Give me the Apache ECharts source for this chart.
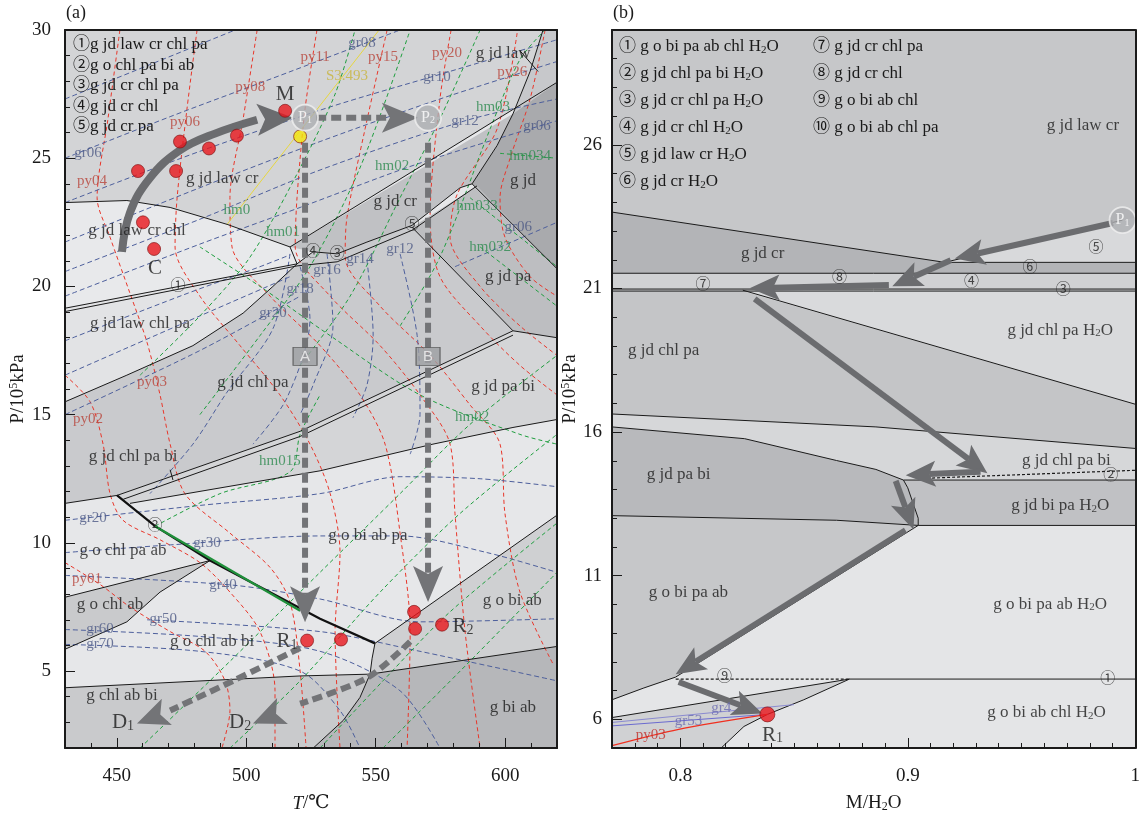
<!DOCTYPE html>
<html><head><meta charset="utf-8">
<script src="https://cdn.jsdelivr.net/npm/echarts@6/dist/echarts.min.js"></script>
<style>html,body{margin:0;padding:0;background:#fff}#c{width:1143px;height:818px}</style>
</head><body><div id="c"></div>
<script>
// ---------------- DATA: panel (a) T–P pseudosection ----------------
const A_ticksT = [450, 500, 550, 600];
const A_ticksP = [5, 10, 15, 20, 25, 30];
const B_ticksM = [0.8, 0.9, 1.0];
const B_ticksP = [6, 11, 16, 21, 26];

// field polygons (T °C, P 10^5 kPa)
const a_jdLawCr = [[430,30],[620,30],[620,27.96],[516.9,21.54],[492.6,22.42],[470.6,23.08],[453.9,23.35],[430,23.27]];
const a_jdLaw = [[603.0,26.73],[609.6,28.38],[614.6,30],[620,30],[620,27.96]];
const a_jd = [[603.0,26.73],[620,27.96],[620,20.69],[587.2,24.0],[596.9,25.5]];
const a_jdCr = [[516.9,21.54],[603.0,26.73],[596.9,25.5],[587.2,24.0],[582.6,23.85],[564.0,22.38],[546.6,21.73],[535.1,21.27],[525.8,21.35]];
const a_jdLawCrChl = [[430,23.27],[453.9,23.35],[470.6,23.08],[492.6,22.42],[516.9,21.54],[519.6,20.88],[430,19.15]];
const a_jdLawChlPa = [[430,19.15],[519.6,20.88],[510.3,20.0],[498.8,18.96],[479.4,17.69],[453.9,16.54],[430,15.5]];
const a_jdChlPa = [[430,15.5],[453.9,16.54],[479.4,17.69],[498.8,18.96],[510.3,20.0],[519.6,20.88],[525.8,21.35],[535.1,21.27],[546.6,21.73],[564.0,22.38],[603.0,18.27],[520.8,14.35],[450.1,11.85],[430,11.54]];
const a_jdPa = [[564.0,22.31],[589.1,23.92],[620,20.69],[620,18.0],[603.0,18.27]];
const a_jdPaBi = [[450.1,11.85],[520.8,14.35],[603.0,18.27],[620,18.0],[620,14.81],[603.0,14.5],[572.1,13.85],[528.5,12.81],[455.1,11.54]];
const a_oChlAb = [[430,7.88],[486.0,9.31],[466.7,8.08],[453.9,6.92],[430,5.85]];
const a_chlAbBi = [[430,4.35],[520.8,4.81],[547.8,4.88],[543.9,3.97],[537.5,3.08],[525.9,2.0],[430,2.0]];
const a_oBiAb = [[549.7,6.08],[620,11.08],[620,5.96],[547.8,4.88],[548.6,5.5]];
const a_biAb = [[547.8,4.88],[620,5.96],[620,2.0],[525.9,2.0],[537.5,3.08],[543.9,3.97]];

// field boundaries
const a_bnd1 = [[430,23.27],[453.9,23.35],[470.6,23.08],[492.6,22.42],[516.9,21.54],[620,27.96]];
const a_bnd2 = [[614.6,30],[609.6,28.38],[603.0,26.73],[596.9,25.5],[587.2,24.0],[620,20.69]];
const a_bnd3 = [[605.7,29.19],[612.7,28.38]];
const a_bnd4 = [[516.9,21.54],[519.6,20.88],[525.8,21.35],[535.1,21.27],[546.6,21.73],[564.0,22.38],[582.6,23.85],[587.2,24.0]];
const a_bnd5 = [[430,19.15],[519.6,20.88]];
const a_bnd5b = [[430,19.02],[519.6,20.80],[535.1,20.96],[564.0,22.19],[589.1,23.92]];
const a_bnd6 = [[519.6,20.88],[510.3,20.0],[498.8,18.96],[479.4,17.69],[453.9,16.54],[430,15.5]];
const a_bnd7 = [[564.0,22.31],[603.0,18.27],[620,18.0]];
const a_bnd8 = [[430,11.54],[450.1,11.85],[520.8,14.35],[603.0,18.27]];
const a_bnd8b = [[452.5,11.7],[520.8,14.15],[603.0,18.1]];
const a_bnd9 = [[455.1,11.54],[528.5,12.81],[572.1,13.85],[603.0,14.5],[620,14.81]];
const a_bnd10 = [[470.6,12.85],[471.7,12.45]];
const a_bold = [[450.1,11.85],[464.8,10.65],[486.0,9.31],[528.5,7.04],[549.7,6.08]];
const a_boldGreen = [[464.8,10.65],[520.8,7.35]];
const a_bnd11 = [[430,7.88],[486.0,9.31],[466.7,8.08],[453.9,6.92],[430,5.85]];
const a_bnd12 = [[430,4.35],[520.8,4.81],[547.8,4.88],[620,5.96]];
const a_bnd13 = [[549.7,6.08],[548.6,5.5],[547.8,4.88],[543.9,3.97],[537.5,3.08],[525.9,2.0]];
const a_bnd14 = [[549.7,6.08],[620,11.08]];

// isopleths: pyrope (red)
const py_1 = [[451.2,30],[446.6,26.54],[442.4,23.46],[447.4,21.92],[455.1,19.73],[461.7,17.81],[466.7,15.77],[470.6,13.85],[476.3,11.92],[493.7,10.38],[509.2,9.04],[516.9,7.69],[520.8,5.0],[523.1,2.0]];
const py_2 = [[481.0,30],[477.1,26.92],[473.3,23.46],[472.5,21.54],[482.1,19.62],[497.6,17.69],[513.0,15.77],[524.6,13.85],[532.4,11.92],[536.2,9.62],[534.3,6.54],[536.2,2.0]];
const py_3 = [[504.2,30],[498.8,26.54],[493.7,23.46],[494.5,21.54],[509.2,19.62],[528.5,17.69],[543.9,15.77],[553.6,13.85],[559.4,10.38],[563.3,6.54],[562.1,2.0]];
const py_4 = [[527.3,30],[522.7,26.92],[519.6,23.46],[518.9,21.54],[532.4,19.62],[551.7,17.69],[567.1,15.77],[578.7,13.85],[580.6,11.15],[584.5,6.54],[590.3,2.0]];
const py_5 = [[554.4,30],[545.9,26.15],[538.9,22.69],[538.2,21.15],[551.7,19.23],[571.0,17.31],[586.4,15.38],[598.0,13.85],[599.9,11.15],[605.7,8.08],[618.5,5.27]];
const py_6 = [[579.1,30],[574.8,27.31],[571.0,22.69],[574.8,20.38],[590.3,18.46],[605.7,16.92],[620,15.77]];
const py_7 = [[604.6,29.88],[596.9,26.15],[581.4,23.58],[578.7,21.92],[590.3,20.0],[605.7,18.46],[620,17.31]];
const py_8 = [[615.4,30],[609.6,27.31],[601.9,25.0],[598.0,23.46],[599.9,21.92],[609.6,20.38],[620,19.62]];
const py_9 = [[430,16.54],[439.7,15.5],[444.7,13.85],[447.4,11.92],[452.4,10.88],[466.7,10.12],[482.1,9.23],[493.7,8.08],[505.3,6.54],[511.1,4.23],[511.1,2.0]];
const py_10 = [[430,9.23],[443.5,8.38],[455.1,7.5],[470.6,6.54],[484.1,5.77],[491.8,4.62],[493.7,3.46],[490.6,2.0]];
// grossular (blue)
const gr_1 = [[430,27.31],[462.8,28.65],[495.7,30]];
const gr_2 = [[430,25.0],[470.6,26.62],[509.2,28.08],[559.4,30]];
const gr_3 = [[430,23.27],[482.1,25.27],[532.4,27.0],[574.8,28.27],[620,29.62]];
const gr_4 = [[430,21.73],[482.1,23.85],[528.5,25.65],[574.8,27.31],[620,28.77]];
const gr_5 = [[430,20.58],[482.1,22.62],[528.5,24.54],[584.5,26.46],[620,27.31]];
const gr_6 = [[430,19.62],[482.1,21.65],[520.8,23.08],[567.1,24.81],[620,26.46]];
const gr_7 = [[430,17.88],[474.4,19.62],[505.3,20.77],[516.9,21.23]];
const gr_8 = [[430,16.54],[482.1,18.85],[516.9,20.38]];
const gr_9 = [[430,15.0],[482.1,17.5],[520.8,19.62]];
const gr_10 = [[516.9,21.27],[510.3,18.35],[492.6,15.88],[479.4,13.85],[462.8,11.92]];
const gr_11 = [[520.8,20.77],[524.6,18.73],[515.7,15.65],[502.6,13.85]];
const gr_12 = [[531.2,21.27],[533.5,18.46],[525.8,16.15],[520.8,15.0]];
const gr_13 = [[546.6,21.04],[549.0,18.08],[546.6,16.15],[541.2,14.88]];
const gr_14 = [[559.4,21.27],[566.0,18.08],[567.1,15.0],[563.3,13.46]];
const gr_15 = [[580.6,20.77],[620,22.5]];
const gr_16 = [[430,10.88],[482.1,11.46],[528.5,11.92],[559.4,12.58],[590.3,12.5],[620,12.19]];
const gr_17 = [[430,9.62],[470.6,9.92],[528.5,10.27],[559.4,10.27],[593.0,9.62],[620,8.85]];
const gr_18 = [[430,8.73],[494.9,8.35],[528.5,7.81],[567.1,6.92],[620,7.04]];
const gr_19 = [[461.7,7.0],[528.5,6.54],[567.1,5.77],[620,4.62]];
const gr_20 = [[430,6.62],[482.1,6.35],[528.5,5.77],[559.4,4.23],[574.8,2.0]];
const gr_21 = [[430,6.04],[482.1,5.77],[520.8,5.0],[536.2,3.46],[543.9,2.0]];
// almandine/hm (green)
const hm_1 = [[459.0,16.54],[482.1,18.85],[501.5,21.15],[520.8,24.62],[534.3,27.5],[542.0,30]];
const hm_2 = [[482.1,15.0],[505.3,18.08],[524.6,20.77],[543.9,24.62],[563.3,30]];
const hm_3 = [[520.8,16.92],[540.1,19.62],[559.4,23.46],[574.8,26.54],[590.3,30]];
const hm_4 = [[559.4,18.46],[574.8,21.15],[594.2,26.15],[605.7,28.85],[615.4,30]];
const hm_5 = [[586.4,23.46],[605.7,21.92],[620,20.77]];
const hm_6 = [[590.3,21.54],[620,19.23]];
const hm_7 = [[598.0,25.19],[620,25.0]];
const hm_8 = [[482.1,21.54],[505.3,20.0],[532.4,18.08],[567.1,15.77],[605.7,14.23],[620,13.85]];
const hm_9 = [[459.0,2.0],[493.7,5.38],[528.5,8.85],[559.4,11.92],[586.4,14.62],[620,17.31]];
const hm_10 = [[493.7,2.0],[520.8,4.62],[551.7,8.08],[582.6,11.15],[620,14.23]];
const hm_11 = [[528.5,2.0],[552.8,4.62],[578.7,7.31],[620,10.77]];
const hm_12 = [[552.8,2.0],[582.6,5.0],[620,8.85]];
const hm_13 = [[464.8,10.65],[489.9,11.92],[516.9,12.77],[520.8,14.23],[528.5,15.77]];
const s3493 = [[492.6,22.42],[551.3,30]];

// P–T path pieces
const a_arcPath = [[452.0,21.35],[455.1,22.88],[462.8,24.23],[474.4,25.31],[487.9,25.96],[504.2,26.5]];
const a_arcHead = [[504.2,26.5,518.1,26.58]];
const a_dashArrows = [[527.0,26.58,566.3,26.58],[522.7,25.6,522.7,6.9],[570.2,25.6,570.2,7.69]];
const a_pathD1 = [[520.8,5.9],[494.9,4.62],[470.6,3.46]];
const a_pathD2 = [[563.3,6.15],[546.6,4.73],[520.8,3.73]];
const a_dashHeads = [[470.6,3.46,457.8,2.96],[520.8,3.73,502.6,2.96]];
const a_samples = [[458.2,24.5],[472.9,24.5],[474.4,25.65],[485.6,25.38],[496.4,25.88],[515.0,26.85],[460.1,22.5],[464.4,21.46],[523.5,6.19],[536.6,6.23],[564.8,7.31],[565.2,6.65],[575.6,6.81]];
const a_yellow = [[520.8,25.85]];
const a_peaks = [['1',522.7,26.58],['2',570.2,26.58]];
const a_boxes = [['A',522.7,17.27],['B',570.2,17.27]];

const a_fieldLabels = [
 ['g jd law cr',490.7,24.2],['g jd law',599.2,29.1],['g jd',606.9,24.12],['g jd cr',557.5,23.31],['g jd pa',601.1,20.38],
 ['g jd law cr chl',457.8,22.19],['g jd law chl pa',459.0,18.54],['g jd chl pa',502.6,16.27],['g jd pa bi',599.2,16.08],
 ['g jd chl pa bi',456.3,13.35],['g o chl pa ab',452.4,9.69],['g o bi ab pa',547.0,10.27],['g o chl ab',447.4,7.58],
 ['g o chl ab bi',486.8,6.15],['g o bi ab',602.7,7.77],['g chl ab bi',452.0,4.04],['g bi ab',603.0,3.58]];
const a_pointLabels = [['M',515.0,27.5],['C',464.8,20.69],['R1',515.7,6.15],['R2',583.7,6.73],['D1',452.4,3.0],['D2',497.6,3.0]];
const a_circled = [['④',525.8,21.35],['③',535.1,21.27],['⑤',564.0,22.38],['①',473.6,20.0],['②',464.8,10.65]];
const a_pyLabels = [['py04',440.4,24.12],['py06',476.3,26.42],['py08',501.5,27.77],['py11',526.6,28.96],['py15',552.8,28.96],['py20',577.5,29.12],['py26',602.7,28.35],['py03',463.6,16.27],['py02',438.9,14.81],['py01',438.5,8.58]];
const a_grLabels = [['gr06',438.9,25.19],['gr08',544.7,29.5],['gr10',573.7,28.15],['gr12',584.5,26.46],['gr06',612.3,26.27],['gr18',520.8,19.88],['gr20',510.3,18.96],['gr16',531.2,20.65],['gr14',543.9,21.08],['gr12',559.4,21.46],['gr06',605.0,22.31],['gr20',440.8,10.96],['gr30',484.8,10.0],['gr40',491.0,8.35],['gr50',467.9,7.04],['gr60',443.5,6.62],['gr70',443.5,6.04]];
const a_hmLabels = [['hm03',595.3,27.0],['hm02',556.3,24.69],['hm034',609.6,25.08],['hm033',589.1,23.15],['hm0',496.4,22.96],['hm01',514.2,22.12],['hm032',594.2,21.54],['hm02',587.2,14.92],['hm015',513.0,13.19]];
const a_sLabels = [['S3.493',538.9,28.19]];

// ---------------- DATA: panel (b) M/H2O–P section ----------------
const b_top = [[0.77,30],[1,30],[1,23.45],[0.9944,23.38],[0.9163,21.91],[0.77,23.66]];
const b_jdCr = [[0.77,23.66],[0.9163,21.91],[1,21.91],[1,21.53],[0.77,21.53]];
const b_w5 = [[0.9163,21.91],[0.9944,23.38],[1,23.45],[1,21.91]];
const b_s4 = [[0.77,21.53],[1,21.53],[1,20.91],[0.77,20.91]];
const b_chlPaH2O = [[0.8275,20.91],[1,20.91],[1,16.97]];
const b_chlPa = [[0.77,20.91],[0.8275,20.91],[1,16.97],[1,15.43],[0.886,16.18],[0.77,16.63]];
const b_chlPaBi = [[0.77,16.63],[0.886,16.18],[1,15.43],[1,14.33],[0.8981,14.33],[0.886,14.7],[0.8687,15.01],[0.8283,15.77],[0.77,16.18]];
const b_paBi = [[0.77,16.18],[0.8283,15.77],[0.8687,15.01],[0.886,14.7],[0.8981,14.33],[0.9,14.06],[0.9046,13.0],[0.9046,12.75],[0.8687,12.93],[0.77,13.09]];
const b_biPaH2O = [[0.8981,14.33],[1,14.33],[1,12.75],[0.9046,12.75],[0.9046,13.0],[0.9,14.06]];
const b_oBiPaAb = [[0.77,13.09],[0.8687,12.93],[0.9046,12.75],[0.798,7.47],[0.784,7.09],[0.77,6.68]];
const b_wedge = [[0.77,6.06],[0.8744,7.4],[0.8543,6.68],[0.8383,6.17],[0.828,5.75],[0.818,5.0],[0.77,5.0]];

const b_l1 = [[0.77,23.66],[0.9163,21.91],[0.9944,23.38]];
const b_l2 = [[0.9163,21.91],[1,21.91]];
const b_l3 = [[0.77,21.53],[1,21.53]];
const b_l4 = [[0.77,20.98],[1,20.98]];
const b_l4b = [[0.77,20.91],[1,20.91]];
const b_l5 = [[0.8275,20.94],[1,16.97]];
const b_l6 = [[0.77,16.63],[0.886,16.18],[1,15.43]];
const b_l7 = [[0.77,16.18],[0.8283,15.77],[0.8687,15.01],[0.886,14.7],[0.8981,14.33],[1,14.33]];
const b_l8 = [[0.9107,14.4],[1,14.67]];
const b_l9 = [[0.8981,14.33],[0.9,14.06],[0.9046,13.0],[0.9046,12.75],[1,12.75]];
const b_l10 = [[0.77,13.09],[0.8687,12.93],[0.9046,12.75],[0.798,7.47],[0.784,7.09],[0.77,6.68]];
const b_l11a = [[0.798,7.4],[0.8744,7.4]];
const b_l11b = [[0.8744,7.4],[1,7.4]];
const b_l12 = [[0.77,6.06],[0.8744,7.4],[0.8543,6.68],[0.8383,6.17],[0.828,5.75],[0.818,5.0]];
const b_gr4 = [[0.77,5.89],[0.85,6.51]];
const b_gr53 = [[0.77,5.77],[0.8383,6.17]];
const b_py03 = [[0.77,5.08],[0.7993,5.65],[0.8383,6.17]];

const b_arrows = [[0.9902,23.28,0.9207,22.04],[0.9189,21.98,0.8932,21.08],[0.8917,21.12,0.8305,21.01],[0.8327,20.64,0.935,14.57],[0.932,14.62,0.8991,14.5],[0.8947,14.3,0.9025,12.61],[0.899,12.58,0.798,7.57],[0.7993,7.3,0.8361,6.2]];
const b_samples = [[0.8383,6.17]];
const b_peaks = [['1',0.9944,23.38]];
const b_fieldLabels = [['g jd law cr',0.977,26.67],['g jd cr',0.8362,22.22],['g jd chl pa H2O',0.967,19.54],['g jd chl pa',0.7927,18.85],['g jd chl pa bi',0.9697,15.02],['g jd pa bi',0.7993,14.51],['g jd bi pa H2O',0.967,13.43],['g o bi pa ab',0.8036,10.4],['g o bi pa ab H2O',0.9626,10.0],['g o bi ab chl H2O',0.961,6.22]];
const b_circled = [['⑤',0.9827,22.42],['⑥',0.9537,21.7],['④',0.928,21.22],['③',0.9684,20.95],['⑧',0.87,21.36],['⑦',0.81,21.12],['②',0.9892,14.47],['①',0.9879,7.4],['⑨',0.8195,7.47]];
const b_pointLabels = [['R1',0.8405,5.45]];
const b_grLabels = [['gr53',0.8036,5.94],['gr4',0.818,6.4]];
const b_pyLabels = [['py03',0.787,5.45]];

const legendA = ['①g jd law cr chl pa','②g o chl pa bi ab','③g jd cr chl pa','④g jd cr chl','⑤g jd cr pa'];
const legendB1 = ['① g o bi pa ab chl H2O','② g jd chl pa bi H2O','③ g jd cr chl pa H2O','④ g jd cr chl H2O','⑤ g jd law cr H2O','⑥ g jd cr H2O'];
const legendB2 = ['⑦ g jd cr chl pa','⑧ g jd cr chl','⑨ g o bi ab chl','⑩ g o bi ab chl pa'];

// ---------------- rendering ----------------
const FONT = '"Liberation Serif","Times New Roman","DejaVu Serif","Noto Sans CJK SC",serif';
const RED='#e8362a', BLUE='#4d5f9c', GREEN='#1e9e3e';
const AX = {a:[0,0], b:[3,3]};

function polySeries(list, ax){
  return {type:'custom', xAxisIndex:ax[0], yAxisIndex:ax[1], silent:true, z:1, clip:true,
    data:list.map((r,i)=>[i,i]),
    renderItem:(params, api)=>{
      const r=list[params.dataIndex];
      return {type:'polygon', shape:{points:r[0].map(p=>api.coord(p))}, style:{fill:r[1], stroke:null}};
    }};
}
function lineS(data, ax, color, width, dash, z, smooth){
  return {type:'line', xAxisIndex:ax[0], yAxisIndex:ax[1], data:data, showSymbol:false, symbol:'none', silent:true,
    smooth: smooth||0, z:z||3, lineStyle:{color:color, width:width, type: dash?dash:'solid'}, animation:false};
}
function arrowS(data, ax, o){
  return {type:'custom', xAxisIndex:ax[0], yAxisIndex:ax[1], silent:true, z:6, data:data, encode:{x:[0,2],y:[1,3]},
    renderItem:(params, api)=>{
      const a=api.coord([api.value(0),api.value(1)]), b=api.coord([api.value(2),api.value(3)]);
      const dx=b[0]-a[0], dy=b[1]-a[1], d=Math.hypot(dx,dy)||1, ux=dx/d, uy=dy/d;
      const bx=b[0]-ux*o.len, by=b[1]-uy*o.len, nx=-uy, ny=ux, hw=o.wid/2, nt=o.len*0.22;
      const ch=[];
      if(o.shaft) ch.push({type:'line', shape:{x1:a[0],y1:a[1],x2:bx+ux*nt,y2:by+uy*nt}, style:{stroke:o.color,lineWidth:o.width,lineDash:o.dash||null}});
      ch.push({type:'polygon', shape:{points:[[b[0],b[1]],[bx+nx*hw,by+ny*hw],[bx+ux*nt,by+uy*nt],[bx-nx*hw,by-ny*hw]]}, style:{fill:o.color}});
      return {type:'group', children:ch};
    }};
}
function rich(s){ return s.replace(/H2O/g,'{h|H}{sub|2}{h|O}').replace(/^(R|D)(\d)$/,'{h|$1}{sub|$2}'); }
function textS(items, ax, color, size, z){
  return {type:'scatter', xAxisIndex:ax[0], yAxisIndex:ax[1], silent:true, z:z||8, symbolSize:1,
    itemStyle:{color:'rgba(0,0,0,0)'},
    data:items.map(t=>({name:t[0], value:[t[1],t[2]]})),
    label:{show:true, position:'inside', color:color, fontFamily:FONT, fontSize:size,
      formatter:p=>rich(p.name),
      rich:{h:{fontFamily:FONT,fontSize:size,color:color}, sub:{fontFamily:FONT,fontSize:Math.round(size*0.65),color:color,padding:[Math.round(size*0.35),0,0,0]}}}};
}
function peakS(items, ax){
  return {type:'scatter', xAxisIndex:ax[0], yAxisIndex:ax[1], silent:true, z:9, symbol:'circle', symbolSize:26,
    itemStyle:{color:'#adaeb1', borderColor:'#f0f0f0', borderWidth:1.8},
    data:items.map(t=>({name:t[0], value:[t[1],t[2]]})),
    label:{show:true, position:'inside', formatter:p=>'{p|P}{s|'+p.name+'}',
      rich:{p:{fontFamily:FONT,fontSize:16,color:'#fff'}, s:{fontFamily:FONT,fontSize:10,color:'#fff',padding:[6,0,0,0]}}}};
}
function dotS(items, ax, color, size){
  return {type:'scatter', xAxisIndex:ax[0], yAxisIndex:ax[1], silent:true, z:9, symbolSize:size, data:items,
    itemStyle:{color:color, borderColor:'#7a1010', borderWidth:0.8}};
}

const regionsA = [[a_jdLawCr,'#d3d4d6'],[a_jdLaw,'#c7c8cb'],[a_jd,'#a9aaad'],[a_jdCr,'#c0c1c4'],[a_jdLawCrChl,'#e8e9eb'],
  [a_jdLawChlPa,'#e2e3e5'],[a_jdChlPa,'#c9cacd'],[a_jdPa,'#bdbec1'],[a_jdPaBi,'#d4d5d7'],[a_oChlAb,'#c9cacc'],
  [a_chlAbBi,'#c9cacc'],[a_oBiAb,'#cfd0d2'],[a_biAb,'#b6b7ba']];
const regionsB = [[b_top,'#c6c7c9'],[b_jdCr,'#b3b4b7'],[b_w5,'#d8d9db'],[b_s4,'#d0d1d3'],[b_chlPaH2O,'#d9dadc'],
  [b_chlPa,'#c4c5c7'],[b_chlPaBi,'#d6d7d9'],[b_paBi,'#b8b9bc'],[b_biPaH2O,'#c0c1c4'],[b_oBiPaAb,'#c6c7c9'],[b_wedge,'#d0d1d3']];

const series = [];
series.push(polySeries(regionsA, AX.a));
series.push(polySeries(regionsB, AX.b));
[py_1,py_2,py_3,py_4,py_5,py_6,py_7,py_8,py_9,py_10].forEach(d=>series.push(lineS(d,AX.a,RED,1,[4,3],3,0.3)));
[gr_1,gr_2,gr_3,gr_4,gr_5,gr_6,gr_7,gr_8,gr_9,gr_10,gr_11,gr_12,gr_13,gr_14,gr_15,gr_16,gr_17,gr_18,gr_19,gr_20,gr_21].forEach(d=>series.push(lineS(d,AX.a,BLUE,1,[5,3],3,0.3)));
[hm_1,hm_2,hm_3,hm_4,hm_5,hm_6,hm_7,hm_8,hm_9,hm_10,hm_11,hm_12,hm_13].forEach(d=>series.push(lineS(d,AX.a,GREEN,1,[4,3],3,0.3)));
series.push(lineS(s3493,AX.a,'#e6d640',1,null,3));
[a_bnd1,a_bnd2,a_bnd3,a_bnd4,a_bnd5,a_bnd5b,a_bnd6,a_bnd7,a_bnd8,a_bnd8b,a_bnd9,a_bnd10,a_bnd11,a_bnd12,a_bnd13,a_bnd14].forEach(d=>series.push(lineS(d,AX.a,'#1a1a1a',1,null,4)));
series.push(lineS(a_bold,AX.a,'#111',2.2,null,4));
series.push(lineS(a_boldGreen,AX.a,'#1f8f3a',2.2,null,4));
// panel a arrows
series.push(lineS(a_arcPath,AX.a,'#6b6c6f',8,null,6,0.4));
series.push(arrowS(a_arcHead,AX.a,{len:36,wid:32,color:'#6b6c6f',shaft:false}));
series.push(arrowS(a_dashArrows,AX.a,{len:36,wid:30,color:'#737477',shaft:true,width:6,dash:[10,5]}));
series.push(lineS(a_pathD1,AX.a,'#737477',6,[10,5],6,0.3));
series.push(lineS(a_pathD2,AX.a,'#737477',6,[10,5],6,0.3));
series.push(arrowS(a_dashHeads,AX.a,{len:32,wid:28,color:'#737477',shaft:false}));
series.push(dotS(a_samples,AX.a,'#e8161d',13));
series.push(dotS(a_yellow,AX.a,'#f5e50a',13));
series.push(peakS(a_peaks,AX.a));
series.push({type:'scatter', xAxisIndex:0, yAxisIndex:0, silent:true, z:9, symbol:'rect', symbolSize:[24,18],
  itemStyle:{color:'#9e9fa2', borderColor:'#4a4a4a', borderWidth:1},
  data:a_boxes.map(t=>({name:t[0], value:[t[1],t[2]]})),
  label:{show:true, position:'inside', formatter:'{b}', color:'#f4f4f4', fontFamily:'"Liberation Sans",sans-serif', fontSize:15}});
series.push(textS(a_fieldLabels,AX.a,'#1a1a1a',17));
series.push(textS(a_pointLabels,AX.a,'#1a1a1a',21));
series.push(textS(a_circled,AX.a,'#222',15));
series.push(textS(a_pyLabels,AX.a,'#b8443a',15));
series.push(textS(a_grLabels,AX.a,'#4c5984',15));
series.push(textS(a_hmLabels,AX.a,'#2e8b50',15));
series.push(textS(a_sLabels,AX.a,'#c8b43c',15));
// panel b
[b_l1,b_l2,b_l3,b_l4,b_l4b,b_l5,b_l6,b_l7,b_l9,b_l10,b_l11b,b_l12].forEach(d=>series.push(lineS(d,AX.b,'#1a1a1a',1,null,4)));
series.push(lineS(b_l8,AX.b,'#1a1a1a',1.2,[3,2],4));
series.push(lineS(b_l11a,AX.b,'#1a1a1a',1.2,[3,2],4));
series.push(lineS(b_gr4,AX.b,'#8a8ad0',1,null,4));
series.push(lineS(b_gr53,AX.b,'#6b6bd0',1,null,4));
series.push(lineS(b_py03,AX.b,'#f03020',1.2,null,4,0.3));
series.push(arrowS(b_arrows,AX.b,{len:30,wid:26,color:'#6b6c6f',shaft:true,width:6}));
series.push(dotS(b_samples,AX.b,'#e8161d',15));
series.push(peakS(b_peaks,AX.b));
series.push(textS(b_fieldLabels,AX.b,'#1a1a1a',17));
series.push(textS(b_circled,AX.b,'#222',15));
series.push(textS(b_pointLabels,AX.b,'#1a1a1a',21));
series.push(textS(b_grLabels,AX.b,'#6a6ab0',15));
series.push(textS(b_pyLabels,AX.b,'#c0302a',15));

const lbl = {fontFamily:FONT, fontSize:19, color:'#1a1a1a'};
const axLine = {show:true, lineStyle:{color:'#1a1a1a', width:2}};
function xMain(g,min,max,iv){return {type:'value',gridIndex:g,min:min,max:max,interval:iv,position:'bottom',z:10,
  axisLine:axLine, axisTick:{inside:true,length:5,lineStyle:{color:'#1a1a1a'}}, axisLabel:{show:false}, splitLine:{show:false}};}
function xLab(g,min,max,vals,fmt,name){return {type:'value',gridIndex:g,min:min,max:max,position:'bottom',z:10,
  axisLine:{show:false}, axisTick:{show:true,inside:true,length:10,customValues:vals,lineStyle:{color:'#1a1a1a'}},
  axisLabel:Object.assign({customValues:vals,margin:19,formatter:fmt},lbl), splitLine:{show:false},
  name:name, nameLocation:'middle', nameGap:46, nameTextStyle:Object.assign({rich:{i:{fontFamily:FONT,fontSize:19,fontStyle:'italic'},n:{fontFamily:FONT,fontSize:19},s:{fontFamily:FONT,fontSize:12,padding:[6,0,0,0]}}},lbl)};}
function xTop(g,min,max){return {type:'value',gridIndex:g,min:min,max:max,position:'top',z:10,axisLine:axLine,axisTick:{show:false},axisLabel:{show:false},splitLine:{show:false}};}
function yMain(g,min,max){return {type:'value',gridIndex:g,min:min,max:max,interval:1,position:'left',z:10,
  axisLine:axLine, axisTick:{inside:true,length:5,lineStyle:{color:'#1a1a1a'}}, axisLabel:{show:false}, splitLine:{show:false}};}
function yLab(g,min,max,vals,gap,mg){return {type:'value',gridIndex:g,min:min,max:max,position:'left',z:10,
  axisLine:{show:false}, axisTick:{show:true,inside:true,length:10,customValues:vals,lineStyle:{color:'#1a1a1a'}},
  axisLabel:Object.assign({customValues:vals,margin:mg},lbl), splitLine:{show:false},
  name:'{n|P/10}{s|5}{n|kPa}', nameLocation:'middle', nameGap:gap, nameRotate:90,
  nameTextStyle:Object.assign({rich:{n:{fontFamily:FONT,fontSize:19},s:{fontFamily:FONT,fontSize:12,padding:[0,0,8,0]}}},lbl)};}
function yRight(g,min,max){return {type:'value',gridIndex:g,min:min,max:max,position:'right',z:10,axisLine:axLine,axisTick:{show:false},axisLabel:{show:false},splitLine:{show:false}};}

function gtext(t,x,y,size,align){return {type:'text',x:x,y:y,z:50,style:{text:rich(t),font:size+'px '+FONT,fill:'#1a1a1a',textAlign:align||'left',textVerticalAlign:'middle',
  rich:{h:{fontFamily:FONT,fontSize:size,fill:'#1a1a1a'},sub:{fontFamily:FONT,fontSize:Math.round(size*0.65),fill:'#1a1a1a',padding:[Math.round(size*0.35),0,0,0]}}}};}
const graphics = [gtext('(a)',66,13,18),gtext('(b)',613,13,18)];
legendA.forEach((t,i)=>graphics.push(gtext(t,73,45+i*20.5,17)));
legendB1.forEach((t,i)=>graphics.push(gtext(t,619,47+i*27,17)));
legendB2.forEach((t,i)=>graphics.push(gtext(t,813,47+i*27,17)));

const option = {
  animation:false, backgroundColor:'#ffffff',
  grid:[{left:65,top:30,width:492,height:728,show:true,backgroundColor:'#e6e7e9',borderWidth:0},
        {left:612,top:30,width:530,height:729,show:true,backgroundColor:'#e4e5e7',borderWidth:0}],
  xAxis:[xMain(0,430,620,10), xLab(0,430,620,A_ticksT,v=>String(v),'{i|T}{n|/℃}'), xTop(0,430,620),
         xMain(1,0.77,1.0,0.01), xLab(1,0.77,1.0,B_ticksM,v=>(Math.abs(v-1)<1e-6?'1':v.toFixed(1)),'{n|M/H}{s|2}{n|O}'), xTop(1,0.77,1.0)],
  yAxis:[yMain(0,2,30), yLab(0,2,30,A_ticksP,37,14), yRight(0,2,30),
         yMain(1,5,30), yLab(1,5,30,B_ticksP,27,10), yRight(1,5,30)],
  graphic:graphics,
  series:series
};
const chart = echarts.init(document.getElementById('c'), null, {renderer:'canvas'});
chart.setOption(option);
</script></body></html>
